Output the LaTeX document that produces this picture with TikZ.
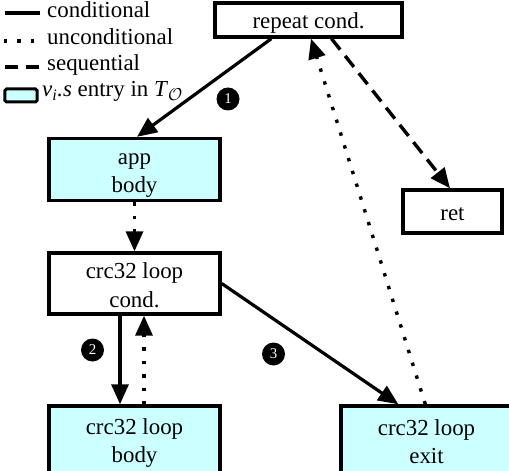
\documentclass[tikz,border=0pt]{standalone}
\usepackage{fontspec}
\setmainfont{Liberation Serif}
\usetikzlibrary{arrows.meta}
\definecolor{boxcyan}{RGB}{204,255,255}
\newcommand\bxstrut{\rule[-3.5bp]{0pt}{26bp}}
\begin{document}
\begin{tikzpicture}[x=1bp,y=-1bp,
  every node/.style={font=\fontsize{23}{26}\selectfont},
  blk/.style={draw=black,line width=3.4bp,align=center,inner sep=0pt},
  entry/.style={blk,fill=boxcyan},
  plain/.style={blk,fill=white},
  cond/.style={line width=3.2bp,-{Triangle[length=20bp,width=17bp]}},
  uncond/.style={line width=3.4bp,dash pattern=on 3.4bp off 10bp,-{Triangle[length=20bp,width=17bp]}},
  seqe/.style={line width=3.4bp,dash pattern=on 14bp off 8bp,-{Triangle[length=20bp,width=17bp]}},
  num/.style={circle,fill=black,text=white,inner sep=0pt,minimum size=23bp,font=\fontsize{15}{15}\selectfont}
]
\useasboundingbox (0,0) rectangle (509,471);
% nodes
\node[plain,minimum width=187bp,minimum height=34bp] (rep) at (308.5,20) {\bxstrut repeat cond.};
\node[entry,minimum width=171bp,minimum height=62bp] (app) at (134.5,169.5) {\bxstrut app\\\bxstrut body};
\node[plain,minimum width=99bp,minimum height=43bp] (ret) at (452.5,211.5) {\bxstrut ret};
\node[plain,minimum width=171bp,minimum height=61bp] (cnd) at (134.5,283.5) {\bxstrut crc32 loop\\\bxstrut cond.};
\node[entry,minimum width=171bp,minimum height=68bp] (bdy) at (134.5,440) {\bxstrut crc32 loop\\\bxstrut body};
\node[entry,minimum width=171bp,minimum height=68bp] (ext) at (426.5,440) {\bxstrut crc32 loop\\\bxstrut exit};
% labels
\node[num] (n1) at (228,99) {1};
\node[num] (n2) at (92.5,350) {2};
\node[num] (n3) at (273.5,354) {3};
% connectors
\draw[cond] ([xshift=58bp]rep.south west) -- ([xshift=2.5bp]app.north);
\draw[seqe] ([xshift=23bp]rep.south) -- ([xshift=-2.5bp]ret.north);
\draw[uncond] ([xshift=86bp]ext.north west) -- ([xshift=2.5bp]rep.south);
\draw[uncond] (app.south) -- (cnd.north);
\draw[cond] ([xshift=-14.5bp]cnd.south) -- ([xshift=-14.5bp]bdy.north);
\draw[uncond] ([xshift=9.5bp]bdy.north) -- ([xshift=9.5bp]cnd.south);
\draw[cond] (cnd.east) -- ([xshift=59bp]ext.north west);
% legend
\coordinate (l1a) at (5,13); \coordinate (l1b) at (40,13);
\coordinate (l2a) at (4,41); \coordinate (l2b) at (40,41);
\coordinate (l3a) at (5,67); \coordinate (l3b) at (40,67);
\draw[line width=3.4bp] (l1a) -- (l1b);
\draw[line width=3.4bp,dash pattern=on 3.4bp off 10bp] (l2a) -- (l2b);
\draw[line width=3.4bp,dash pattern=on 13bp off 8bp] (l3a) -- (l3b);
\node[draw=black,fill=boxcyan,line width=3bp,rounded corners=1.5bp,minimum width=32bp,minimum height=13bp,inner sep=0pt] (lbox) at (21,95.5) {};
\node[anchor=base west,inner sep=0pt] (t1) at (47,18) {conditional};
\node[anchor=base west,inner sep=0pt] (t2) at (47,45) {unconditional};
\node[anchor=base west,inner sep=0pt] (t3) at (47,71) {sequential};
\node[anchor=base west,inner sep=0pt] (t4) at (42,97) {\textit{v}\textsubscript{\textit{i}}\textit{.s} entry in \textit{T}\textsubscript{$\mathcal{O}$}};
\end{tikzpicture}
\end{document}
